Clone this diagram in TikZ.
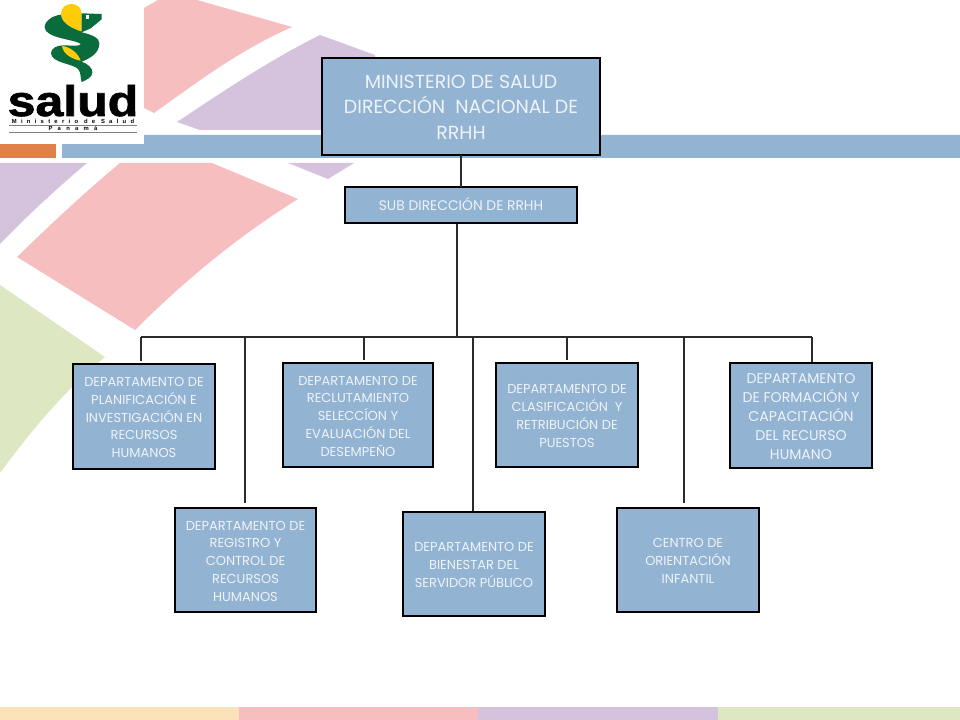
\documentclass[tikz,border=0pt]{standalone}
\usepackage{fontspec}
\usepackage{graphicx}
\setmainfont{Poppins}
\newfontfamily\logofont{Liberation Sans}[FakeBold=1.6]
\newfontfamily\logospaced{Liberation Sans}[LetterSpace=73]
\newfontfamily\logowide{Liberation Sans}[LetterSpace=90]
\definecolor{bandblue}{HTML}{93B3D3}
\definecolor{bandorange}{HTML}{DF8049}
\definecolor{softpink}{HTML}{F7BEBF}
\definecolor{softpurple}{HTML}{D5C3DE}
\definecolor{softgreen}{HTML}{DDE8C2}
\definecolor{softpeach}{HTML}{FCE2B9}
\definecolor{snakegreen}{HTML}{0A6B3C}
\definecolor{snakeyellow}{HTML}{FFCC0A}
\definecolor{boxtext}{HTML}{EEF3F8}
\definecolor{linedark}{HTML}{2B2B2B}
\makeatletter
\newcommand{\boxlines}[2][3pt]{\begin{tabular}{@{}c@{}}\rule{0pt}{\dimexpr\ht\@arstrutbox+#1\relax}#2\end{tabular}}
\makeatother
\tikzset{
  orgbox/.style={draw=black,fill=bandblue,line width=2.1pt,text=boxtext,align=center,inner sep=0pt,outer sep=0pt,font=\fontsize{9.75}{13.3}\selectfont},
  bigbox/.style={orgbox,font=\fontsize{14.2}{19.1}\selectfont},
  tie/.style={draw=linedark,line width=0.85pt},
}
\begin{document}
\begin{tikzpicture}[x=0.75pt,y=-0.75pt]
\useasboundingbox (0,0) rectangle (960,720);
\fill[white] (0,0) rectangle (960,720);
% background shapes
\fill[softpink] (144,8) -- (158,0) -- (197,0) -- (292,27) .. controls (240,50) and (200,80) .. (154,113) -- (144,108) -- cycle;
\fill[softpurple] (177,122) .. controls (225,90) and (270,60) .. (320,35) -- (375,55) -- (375,130) -- (200,130) -- cycle;
\fill[bandblue] (62,144) -- (144,144) -- (144,135) -- (960,135) -- (960,158) -- (62,158) -- cycle;
\fill[bandorange] (0,144) rectangle (56,158);
\fill[softpurple] (0,163) -- (87,163) .. controls (55,190) and (25,218) .. (0,244) -- cycle;
\fill[softpink] (120,163) -- (212,163) -- (298,199) .. controls (240,235) and (185,280) .. (135,330) -- (17,257) .. controls (50,225) and (85,192) .. (120,163) -- cycle;
\fill[softpurple] (288,163) -- (354,163) -- (328,179) -- cycle;
\fill[softgreen] (0,285) -- (105,357) .. controls (65,390) and (30,432) .. (0,473) -- cycle;
\fill[softpeach] (0,707) rectangle (239,720);
\fill[softpink] (239,707) rectangle (478,720);
\fill[softpurple] (478,707) rectangle (718,720);
\fill[softgreen] (718,707) rectangle (960,720);
% logo
\fill[white] (0,0) rectangle (144,144);
\begin{scope}[x=0.25pt,y=-0.25pt]
\fill[snakeyellow] (183,42) .. controls (183,22) and (198,12) .. (214,12) .. controls (232,12) and (245,24) .. (245,42) -- (245,96) .. controls (215,85) and (185,70) .. (183,42) -- cycle;
\fill[snakegreen] (245,40) -- (305,42) -- (305,58) -- (272,85) -- (245,97)
  .. controls (280,105) and (298,115) .. (298,130)
  .. controls (298,160) and (270,175) .. (245,185)
  .. controls (265,192) and (278,205) .. (277,218)
  .. controls (276,232) and (260,240) .. (245,246)
  .. controls (240,235) and (245,222) .. (235,208)
  .. controls (220,190) and (155,190) .. (153,160)
  .. controls (153,145) and (170,136) .. (190,136)
  .. controls (210,136) and (240,140) .. (243,132)
  .. controls (225,118) and (135,115) .. (134,82)
  .. controls (134,62) and (160,46) .. (183,44)
  .. controls (185,70) and (215,85) .. (245,95) -- cycle;
\fill[snakeyellow] (186,138) .. controls (210,140) and (235,160) .. (242,182) .. controls (220,178) and (190,165) .. (186,138) -- cycle;
\fill[white] (257,46) rectangle (268,56);
\end{scope}
\node[text=black,inner sep=0pt,anchor=base] (logoname) at (73,116) {\logofont\bfseries\scalebox{2.68}[2.3]{\fontsize{14}{14}\selectfont salud}};
\node[text=black,inner sep=0pt,anchor=base] (logosub) at (73,123.5) {\logospaced\bfseries\fontsize{4.4}{5}\selectfont Ministerio de Salud};
\draw[gray,line width=0.6pt] (9,125) -- (137,125);
\node[text=black,inner sep=0pt,anchor=base] (logocountry) at (73,131) {\logowide\bfseries\fontsize{4.4}{5}\selectfont Panamá};
\draw[gray,line width=0.6pt] (9,132.5) -- (137,132.5);
% boxes
\node[bigbox,minimum width=208.5pt,minimum height=72.75pt] (main) at (461,106.5) {\boxlines{MINISTERIO DE SALUD\\DIRECCIÓN\ \ NACIONAL DE\\RRHH}};
\node[orgbox,minimum width=174pt,minimum height=27pt,font=\fontsize{10.4}{12}\selectfont] (sub) at (461,205) {\boxlines[4pt]{SUB DIRECCIÓN DE RRHH}};
\node[orgbox,minimum width=106.5pt,minimum height=78.75pt] (dplan) at (144,416.5) {\boxlines{DEPARTAMENTO DE\\PLANIFICACIÓN E\\INVESTIGACIÓN EN\\RECURSOS\\HUMANOS}};
\node[orgbox,minimum width=112.5pt,minimum height=78pt] (drec) at (358,415) {\boxlines{DEPARTAMENTO DE\\RECLUTAMIENTO\\SELECCÍON Y\\EVALUACIÓN DEL\\DESEMPEÑO}};
\node[orgbox,minimum width=106.5pt,minimum height=78pt] (dcla) at (567,415) {\boxlines{DEPARTAMENTO DE\\CLASIFICACIÓN\ \ Y\\RETRIBUCIÓN DE\\PUESTOS}};
\node[orgbox,minimum width=106.5pt,minimum height=78.75pt,font=\fontsize{10.6}{14.3}\selectfont] (dfor) at (801,415.5) {\boxlines{DEPARTAMENTO\\DE FORMACIÓN Y\\CAPACITACIÓN\\DEL RECURSO\\HUMANO}};
\node[orgbox,minimum width=105.75pt,minimum height=78pt] (dreg) at (245.5,560) {\boxlines{DEPARTAMENTO DE\\REGISTRO Y\\CONTROL DE\\RECURSOS\\HUMANOS}};
\node[orgbox,minimum width=106.5pt,minimum height=78pt] (dbie) at (474,564) {\boxlines{DEPARTAMENTO DE\\BIENESTAR DEL\\SERVIDOR PÚBLICO}};
\node[orgbox,minimum width=106.5pt,minimum height=78pt] (dcen) at (688,560) {\boxlines{CENTRO DE\\ORIENTACIÓN\\INFANTIL}};
% connector coordinates
\coordinate (subfoot) at (457,224);
\coordinate (bus) at (457,337);
\coordinate (busL) at (141,337);
\coordinate (busR) at (812,337);
\coordinate (endplan) at (141,361);
\coordinate (endreg) at (245,503);
\coordinate (endrec) at (364,360);
\coordinate (endbie) at (473,511);
\coordinate (endcla) at (567,360);
\coordinate (endcen) at (684,503);
\coordinate (endfor) at (812,362);
% connectors
\draw[tie] (main.south) -- (sub.north);
\draw[tie] (subfoot) -- (bus);
\draw[tie] (busL) -- (busR);
\draw[tie] (busL) -- (endplan);
\draw[tie] (busL -| endreg) -- (endreg);
\draw[tie] (busL -| endrec) -- (endrec);
\draw[tie] (busL -| endbie) -- (endbie);
\draw[tie] (busL -| endcla) -- (endcla);
\draw[tie] (busL -| endcen) -- (endcen);
\draw[tie] (busR) -- (endfor);
\end{tikzpicture}
\end{document}
